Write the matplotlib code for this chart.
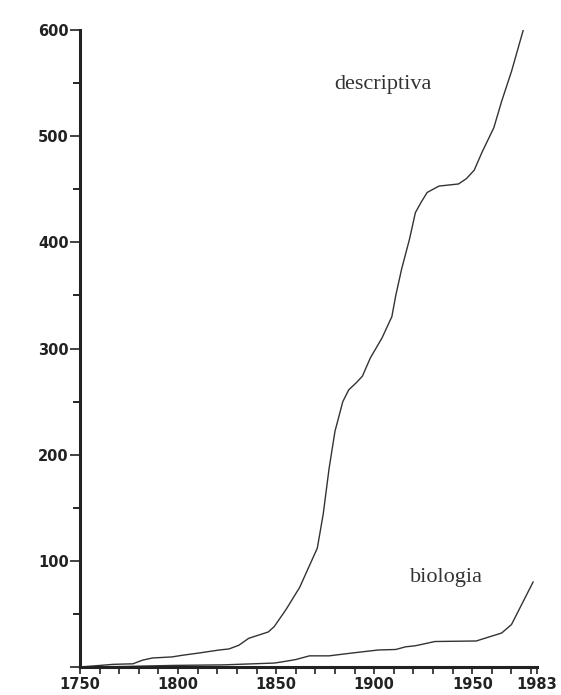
import matplotlib.pyplot as plt

# values
desc_years = [1750, 1757, 1767, 1777, 1782, 1787, 1797, 1802, 1810, 1821, 1826,
              1831, 1836, 1846, 1849, 1855, 1862, 1871, 1874, 1877, 1880, 1884,
              1887, 1891, 1894, 1898, 1904, 1909, 1911, 1914, 1918, 1921, 1924,
              1927, 1933, 1943, 1947, 1951, 1955, 1961, 1965, 1970, 1976]
desc_vals = [0, 1, 2.5, 3, 6.5, 8.5, 9.5, 11, 13, 16, 17,
             20.5, 27, 33, 38, 54, 75, 112, 144, 187, 222, 250,
             261, 268, 274, 291, 310, 330, 350, 375, 403, 428, 438,
             447, 453, 455, 460, 468, 485, 508, 533, 561, 600]

bio_years = [1750, 1773, 1798, 1823, 1849, 1852, 1860, 1867, 1877, 1888, 1902,
             1911, 1916, 1921, 1931, 1952, 1965, 1970, 1981]
bio_vals = [0, 0.5, 1.5, 2, 3.7, 4.5, 7, 10.5, 10.5, 13, 16,
            16.5, 19, 20, 24, 24.5, 32, 40, 80]

xtick_pos = list(range(1750, 1981, 10)) + [1983]
xtick_labels = ['1750', '1800', '1850', '1900', '1950', '1983']

fig = plt.figure(figsize=(5.61, 6.95), dpi=100)
ax = fig.add_axes([0.1426, 0.0403, 0.8146, 0.9165])

ax.plot(desc_years, desc_vals, color='#333333', lw=1.0)
ax.plot(bio_years, bio_vals, color='#333333', lw=1.0)

ax.text(1904.5, 549, 'descriptiva', family='Liberation Serif', fontsize=16,
        ha='center', va='center', color='#333333')
ax.text(1937, 84, 'biologia', family='Liberation Serif', fontsize=16,
        ha='center', va='center', color='#333333')

ax.set_xlim(1750, 1983)
ax.set_ylim(0, 600)

for s in ['top', 'right']:
    ax.spines[s].set_visible(False)
ax.spines['left'].set_linewidth(2.2)
ax.spines['bottom'].set_linewidth(2.2)
ax.spines['left'].set_color('#222222')
ax.spines['bottom'].set_color('#222222')

ax.set_yticks([0, 100, 200, 300, 400, 500, 600])
ax.set_yticklabels(['', '100', '200', '300', '400', '500', '600'])
ax.set_yticks(range(50, 600, 100), minor=True)
ax.set_xticks(xtick_pos)
ax.set_xticklabels([str(y) if str(y) in xtick_labels else '' for y in xtick_pos])

ax.tick_params(axis='y', which='major', direction='out', length=7, width=1.2,
               pad=1, labelsize=10.5, colors='#222222')
ax.tick_params(axis='y', which='minor', direction='out', length=5, width=1.2)
ax.tick_params(axis='x', which='major', direction='out', length=5, width=1.2,
               pad=2, labelsize=10.5, colors='#222222')
for lab in ax.get_xticklabels() + ax.get_yticklabels():
    lab.set_fontweight('bold')

fig.savefig('out.png', dpi=100)
